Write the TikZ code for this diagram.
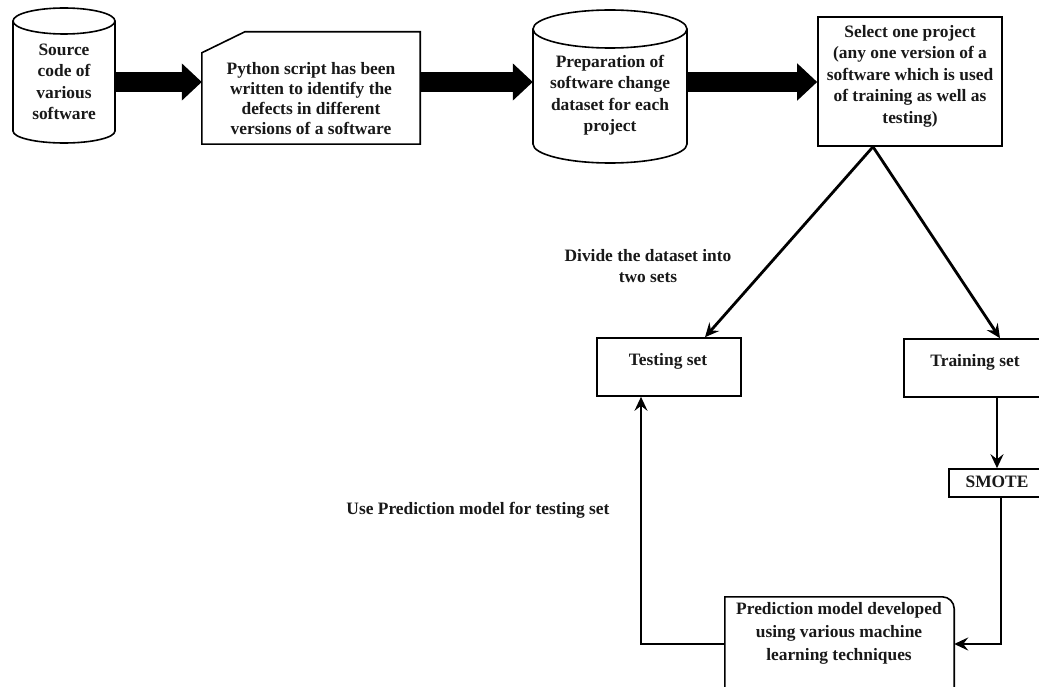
\documentclass[tikz,border=0pt]{standalone}
\usepackage{fontspec}
\setmainfont{Liberation Serif}
\usetikzlibrary{arrows.meta}
\begin{document}
\begin{tikzpicture}[x=1pt,y=-1pt,
  txt/.style={font=\bfseries\fontsize{17.4}{21.5}\selectfont, align=center, inner sep=0pt, text=black!90},
  frame/.style={draw, line width=1.6pt, inner sep=0pt},
  outline/.style={line width=1.6pt},
  hid/.style={inner sep=0pt},
  blockarrow/.style={line width=20pt, -{Triangle[length=20pt,width=36pt]}},
  conn/.style={line width=2.8pt, -{Stealth[length=14pt,width=13pt,inset=5pt]}}]
\fill[white] (0,0) rectangle (1039,687);
\useasboundingbox (0,0) rectangle (1039,687);
\clip (0,0) rectangle (1039,687);

% Source code cylinder
\draw[outline] (13,21) -- (13,131) arc[start angle=180,end angle=360,x radius=51pt,y radius=12pt] -- (115,21);
\draw[outline] (64,21) ellipse[x radius=51pt,y radius=13pt];
\node[hid, txt, minimum width=102pt, minimum height=122pt] (src) at (64,82) {Source\\code of\\various\\software};

% Python script box
\node[hid, minimum width=218pt, minimum height=112pt] (script) at (311,88) {};
\draw[outline] (script.south west) -- ([yshift=-21pt]script.north west) -- ([xshift=43pt]script.north west) -- (script.north east) -- (script.south east) -- cycle;
\node[txt, font=\bfseries\fontsize{17.4}{20}\selectfont] (scriptT) at (311,98.5) {Python script has been\\written to identify the\\defects in different\\versions of a software};

% Preparation cylinder
\draw[outline] (533,29) -- (533,144) arc[start angle=180,end angle=360,x radius=77pt,y radius=19pt] -- (687,29);
\draw[outline] (610,29) ellipse[x radius=77pt,y radius=19pt];
\node[hid, txt, minimum width=154pt, minimum height=100pt] (prep) at (610,95) {Preparation of\\software change\\dataset for each\\project};

% Select box
\node[frame, minimum width=184pt, minimum height=129pt] (select) at (910,81.5) {};
\node[txt] (selectT) at (910,76) {Select one project\\(any one version of a\\software which is used\\of training as well as\\testing)};

% Block arrows
\draw[blockarrow] (src.east) -- (script.west |- src.east);
\draw[blockarrow] (script.east |- src.east) -- (prep.west |- src.east);
\draw[blockarrow] (prep.east |- src.east) -- (select.west |- src.east);

% Testing / Training
\node[frame, minimum width=144pt, minimum height=58pt] (test) at (669,367) {};
\node[txt] (testT) at (668,361) {Testing set};
\node[frame, minimum width=142pt, minimum height=58pt] (train) at (975,368) {};
\node[txt] (trainT) at (975,362) {Training set};

% SMOTE
\node[frame, minimum width=96pt, minimum height=28pt] (smote) at (997,483) {};
\node[txt] (smoteT) at (997,482) {SMOTE};

% Prediction model box
\node[hid, minimum width=229pt, minimum height=94pt] (pred) at (839.5,644) {};
\draw[outline] ([yshift=-20pt]pred.south west) -- (pred.north west) -- ([xshift=-12pt]pred.north east) arc[start angle=90,end angle=0,radius=12pt] -- ([yshift=-20pt]pred.south east);
\node[txt, font=\bfseries\fontsize{17.4}{23}\selectfont] (predT) at (839,633) {Prediction model developed\\using various machine\\learning techniques};

% Labels
\node[txt] (divlbl) at (648,266) {Divide the dataset into\\two sets};
\node[txt] (uselbl) at (478,510) {Use Prediction model for testing set};

% Connectors
\coordinate (fork) at ([xshift=-37pt]select.south);
\draw[conn] (fork) -- ([xshift=36pt]test.north);
\draw[conn] (fork) -- ([xshift=25pt]train.north);
\draw[conn] (smote.north |- train.south) -- (smote.north);
\draw[conn] ([xshift=4pt]smote.south) |- (pred.east);
\draw[conn] (pred.west) -| ([xshift=-28pt]test.south);
\end{tikzpicture}
\end{document}
